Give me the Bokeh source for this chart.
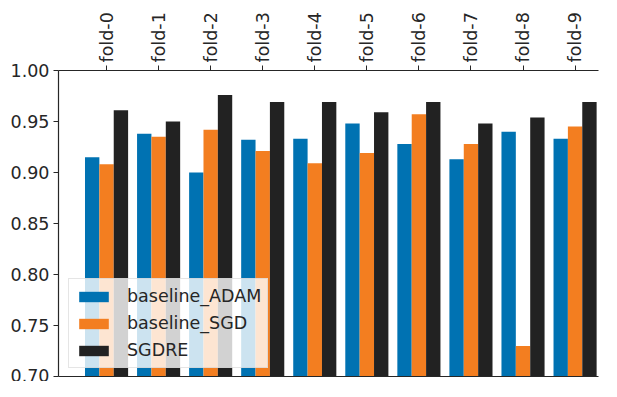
import math
from bokeh.plotting import figure
from bokeh.models import Range1d, LinearAxis, FixedTicker, Legend, LegendItem, ColumnDataSource
from bokeh.embed import file_html
from bokeh.resources import INLINE

folds = ["fold-0", "fold-1", "fold-2", "fold-3", "fold-4", "fold-5", "fold-6", "fold-7", "fold-8", "fold-9"]
baseline_adam = [0.915, 0.938, 0.900, 0.932, 0.933, 0.948, 0.928, 0.913, 0.940, 0.933]
baseline_sgd = [0.908, 0.935, 0.942, 0.921, 0.909, 0.919, 0.957, 0.928, 0.730, 0.945]
sgdre = [0.961, 0.950, 0.976, 0.969, 0.969, 0.959, 0.969, 0.948, 0.954, 0.969]
series_names = ["baseline_ADAM", "baseline_SGD", "SGDRE"]
colors = ["#0072b2", "#f37e20", "#222222"]
y_ticks = [0.70, 0.75, 0.80, 0.85, 0.90, 0.95, 1.00]

FONT = "DejaVu Sans"
FS = "17.5px"
AXC = "#262626"

p = figure(width=601, height=381, output_backend="svg", toolbar_location=None,
           x_axis_location=None, y_axis_location="left",
           x_range=Range1d(-0.923, 9.45), y_range=Range1d(0.70, 1.00),
           min_border_left=58, min_border_top=70, min_border_bottom=5, min_border_right=3)
p.outline_line_color = None
p.grid.visible = False
p.background_fill_color = "white"
p.border_fill_color = "white"

xs = list(range(len(folds)))
bw = 0.276
renderers = []
for k, (vals, c) in enumerate(zip([baseline_adam, baseline_sgd, sgdre], colors)):
    src = ColumnDataSource(dict(x=[x + (k - 1) * bw for x in xs], top=vals))
    r = p.vbar(x="x", top="top", bottom=0.70, width=bw, source=src,
               fill_color=c, line_color=None)
    renderers.append(r)

ya = p.yaxis[0]
ya.ticker = FixedTicker(ticks=y_ticks)
ya.major_label_overrides = {t: f"{t:.2f}" for t in y_ticks}
ya.major_label_text_font = FONT
ya.major_label_text_font_size = FS
ya.major_label_text_color = AXC
ya.axis_line_color = AXC
ya.axis_line_width = 1.2
ya.major_tick_line_color = AXC
ya.major_tick_out = 5
ya.major_tick_in = 0
ya.minor_tick_line_color = None
ya.major_label_standoff = 4

top = LinearAxis(ticker=FixedTicker(ticks=xs),
                 major_label_overrides={i: f for i, f in enumerate(folds)},
                 major_label_orientation=math.pi / 2,
                 major_label_text_font=FONT, major_label_text_font_size=FS,
                 major_label_text_color=AXC,
                 axis_line_color=AXC, axis_line_width=1.2,
                 major_tick_line_color=AXC, major_tick_out=5, major_tick_in=0,
                 minor_tick_line_color=None, major_label_standoff=3)
p.add_layout(top, "above")

bottom = LinearAxis(ticker=FixedTicker(ticks=[]), axis_line_color=AXC, axis_line_width=1.2,
                    major_tick_line_color=None, minor_tick_line_color=None,
                    major_label_text_font_size="0px", major_label_standoff=0)
p.add_layout(bottom, "below")

legend = Legend(items=[LegendItem(label=n, renderers=[r]) for n, r in zip(series_names, renderers)],
                location=(10, 8), orientation="vertical",
                label_text_font=FONT, label_text_font_size=FS, label_text_color="#262626",
                glyph_width=37, glyph_height=13, label_standoff=15,
                label_height=22, spacing=5, padding=6, margin=0,
                background_fill_color="white", background_fill_alpha=0.8,
                border_line_color="#cccccc", border_line_width=1)
p.add_layout(legend, "center")

open("out.html", "w").write(file_html(p, INLINE))
